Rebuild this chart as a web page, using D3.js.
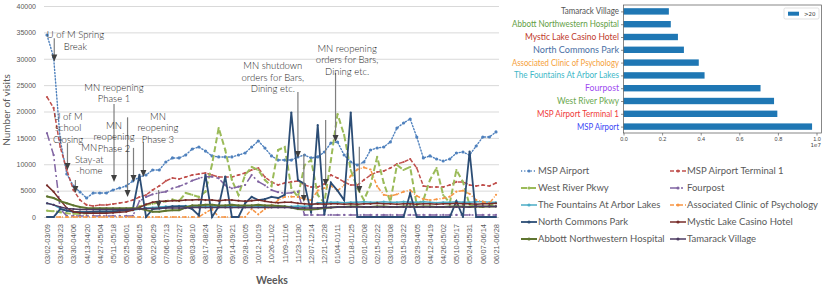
<!DOCTYPE html>
<html>
<head>
<meta charset="utf-8">
<script src="https://cdn.jsdelivr.net/npm/d3@7"></script>
<style>
  body { margin: 0; background: #fff; }
  svg { display: block; font-family: Lato, "Open Sans", sans-serif; }
</style>
</head>
<body>
<script>
// weekly categories (axis shows every other one)
const weeks = ["03/02-03/09","03/09-03/16","03/16-03/23","03/23-03/30","03/30-04/06","04/06-04/13","04/13-04/20","04/20-04/27",
  "04/27-05/04","05/04-05/11","05/11-05/18","05/18-05/25","05/25-06/01","06/01-06/08","06/08-06/15","06/15-06/22",
  "06/22-06/29","06/29-07/06","07/06-07/13","07/13-07/20","07/20-07/27","07/27-08/03","08/03-08/10","08/10-08/17",
  "08/17-08/24","08/24-08/31","08/31-09/07","09/07-09/14","09/14-09/21","09/21-09/28","09/28-10/05","10/05-10/12",
  "10/12-10/19","10/19-10/26","10/26-11/02","11/02-11/09","11/09-11/16","11/16-11/23","11/23-11/30","11/30-12/07",
  "12/07-12/14","12/14-12/21","12/21-12/28","12/28-01/04","01/04-01/11","01/11-01/18","01/18-01/25","01/25-02/01",
  "02/01-02/08","02/08-02/15","02/15-02/22","02/22-03/01","03/01-03/08","03/08-03/15","03/15-03/22","03/22-03/29",
  "03/29-04/05","04/05-04/12","04/12-04/19","04/19-04/26","04/26-05/02","05/03-05/10","05/10-05/17","05/17-05/24",
  "05/24-05/31","05/31-06/07","06/07-06/14","06/14-06/21","06/21-06/28"];

const yTicks = [0, 5000, 10000, 15000, 20000, 25000, 30000, 35000, 40000];

const mspAirport = [34500,30300,14600,8150,5880,4740,3600,4550,4550,4550,5120,5500,5880,6830,7580,7960,8910,8910,10430,11190,
  11190,11750,12890,13270,12500,11570,11380,11380,11380,11750,12130,13270,14410,13080,11570,10800,10800,10800,11380,11750,
  11190,11380,12320,14030,14220,11750,10430,9860,10430,12700,13080,13270,14220,16870,17820,18580,15170,11190,11570,11000,
  10620,11000,12130,12320,11750,13460,15170,15170,16120];
const mspTerminal1 = [22750,20670,13270,8910,5120,3220,2280,2090,2280,2280,2460,2650,2840,3220,3790,4170,5120,5880,6830,7390,
  7200,7580,7960,8150,8340,7960,7580,7580,7580,7960,8340,8910,9290,7580,6640,6070,6450,6640,6830,6070,
  5690,5690,6260,7960,7390,6640,6070,6070,7020,7960,8530,8720,9290,10050,10430,11000,9290,5880,5690,5690,
  5690,6070,6640,6640,6070,5880,6070,5880,6450];
const westRiver = [1200,1100,900,700,600,600,700,800,900,1000,1100,1300,1500,1700,2000,2300,2500,2800,3000,3300,
  3000,4550,4200,3800,4800,10000,16870,12700,7020,4170,7960,9480,8910,7020,5880,12700,13270,5500,3790,9860,
  10800,4170,2650,10800,19530,15550,8910,5500,3220,6070,11380,6450,2840,9860,8910,9480,2280,3220,7020,9290,
  4170,2650,8910,6640,2280,1900,1900,2090,2650];
const fourpost = [15900,11750,1500,200,200,200,200,200,200,200,200,200,200,200,3000,3800,4300,4600,4800,5440,
  5800,6300,6900,7340,7650,7650,7340,6000,5440,5750,6070,7960,6700,6000,5120,4700,4500,4600,4800,400,
  400,400,400,400,400,400,400,400,400,400,400,400,400,400,400,400,400,400,400,400,
  400,400,400,400,400,400,400,400,400];
const fountains = [2600,2300,1600,1200,1000,1000,1000,1000,1100,1100,1100,1200,1200,1300,1500,1700,1800,1900,2000,2000,
  2100,2100,2000,2000,2100,2000,2000,2100,2000,2000,2100,2100,2000,2000,2000,2100,2000,2000,2100,2000,
  2200,2700,2700,2800,2800,2700,2800,2800,2900,2800,2800,2900,2800,2800,2900,2800,2800,2900,2800,2700,
  2800,2800,2900,2800,2800,2900,2900,2800,2800];
const associatedClinic = [0,0,0,0,0,0,0,0,0,0,0,0,0,0,0,0,0,0,0,0,
  0,0,0,0,800,1500,0,0,0,0,0,1500,500,1500,2000,3200,3800,3850,3800,3400,
  3200,5000,5500,5900,5000,6000,7800,9000,9400,9000,5800,4200,4000,4300,4800,5100,4000,3400,3200,3350,
  3550,3850,4800,5000,4400,3220,2900,2600,4200];
const northCommons = [0,0,1500,1200,1000,900,900,1000,1000,1000,1000,1200,1300,1500,8000,0,1500,1600,1800,2000,
  2000,2000,1500,300,8000,0,2000,7650,0,0,2600,3800,3200,3400,3800,3600,4200,19800,7000,6300,
  800,17400,500,6500,5000,3200,19800,0,0,0,0,0,0,0,0,4500,0,0,0,0,
  0,0,3000,0,12400,0,0,0,0];
const mysticLake = [6000,4800,3200,1700,1000,800,700,700,700,700,800,900,1000,1300,1800,2400,2800,3000,3000,3100,
  3100,3200,3200,3300,3200,3200,3100,3200,3200,3100,3000,3100,3200,3000,2800,2700,2800,2800,2600,2500,
  2400,2500,2400,2500,2500,2400,2500,2400,2500,2500,2600,2500,2500,2400,2500,2500,2400,2500,2500,2400,
  2500,2500,2600,2500,2500,2400,2500,2500,2600];
const abbott = [3900,3600,3000,2600,2200,1900,1700,1650,1650,1650,1650,1650,1650,1650,1600,1300,1000,1000,1200,1300,
  1300,1800,2200,2200,2300,2300,2200,2200,2300,2200,2200,2200,2300,2200,2200,2100,2000,1800,1500,1400,
  1400,1500,1700,1800,1900,1900,2000,2000,1900,1900,2000,2000,1900,1900,2000,2000,1900,2000,2000,1900,
  1900,2000,2000,2000,1900,2000,2000,2000,2000];
const tamarack = [2600,2300,1900,1600,1500,1400,1400,1400,1400,1400,1400,1400,1400,1500,1500,1600,1600,1700,1700,1700,
  1700,1700,1800,1800,1800,1800,1800,1800,1800,1800,1800,1800,1800,1800,1800,1800,1800,1800,1700,1700,
  1700,1700,1800,1800,1900,1900,1900,1900,1900,1900,1900,1900,1900,1900,1900,1900,1900,1900,1900,1900,
  1900,1900,1900,1900,1900,2000,2000,2000,2000];

const seriesNames = ["MSP Airport","MSP Airport Terminal 1","West River Pkwy","Fourpost","The Fountains At Arbor Lakes",
  "Associated Clinic of Psychology","North Commons Park","Mystic Lake Casino Hotel","Abbott Northwestern Hospital","Tamarack Village"];
const seriesValues = [mspAirport, mspTerminal1, westRiver, fourpost, fountains, associatedClinic, northCommons, mysticLake, abbott, tamarack];

// event notes: lines of text, centre week index, first baseline value, arrows [week index, from, to]
const annotations = [
  { lines: ["U of M Spring", "Break"], at: 4.3, top: 33900, arrows: [[1.1, 33900, 29500]] },
  { lines: ["U of M", "school", "Closing"], at: 3.2, top: 18400, arrows: [[3.1, 14000, 8900]] },
  { lines: ["MN", "Stay-at", "-home"], at: 6.4, top: 12500, arrows: [[4.3, 7000, 4550]] },
  { lines: ["MN reopening", "Phase 1"], at: 10.15, top: 23900, arrows: [[10.15, 21400, 6640]] },
  { lines: ["MN", "reopening", "Phase 2"], at: 10.15, top: 16700, arrows: [[12.2, 18900, 3800], [13.1, 13100, 6640]] },
  { lines: ["MN", "reopening", "Phase 3"], at: 16.8, top: 18400, arrows: [[14.6, 14200, 7580], [16.9, 5100, 1700]] },
  { lines: ["MN shutdown", "orders for Bars,", "Dining  etc."], at: 34.2, top: 28000, arrows: [[38, 23700, 11200], [38.9, 11900, 2840]] },
  { lines: ["MN reopening", "orders for Bars,", "Dining  etc."], at: 45.45, top: 31300, arrows: [[43.7, 27300, 14200], [42.2, 18400, 5880], [47.3, 13300, 4550]] }
];

// bar panel, bottom to top
const barNames = ["MSP Airport","MSP Airport Terminal 1","West River Pkwy","Fourpost","The Fountains At Arbor Lakes",
  "Associated Clinic of Psychology","North Commons Park","Mystic Lake Casino Hotel","Abbott Northwestern Hospital","Tamarack Village"];
const barValues = [9.77e6, 7.97e6, 7.8e6, 7.1e6, 4.2e6, 3.9e6, 3.13e6, 2.82e6, 2.45e6, 2.35e6];
const barTicks = [0, 2e6, 4e6, 6e6, 8e6, 1e7];

// styles
const colors = ["#4F81BD","#C0504D","#9BBB59","#8064A2","#4BACC6","#F79646","#2C4D75","#772C2A","#5F7530","#4D3B62"];
const dashes = ["1.2,2","4,2","6,3","8,3,2,3",null,"4,2,1,2",null,null,null,null];
const widths = [1.4,1.5,2,1.5,1.5,1.5,1.8,1.5,2,1.5];
const barLabelColors = ["#3b46f5","#f03a3a","#6aa84f","#a04cf0","#40b8c8","#f5a03a","#4a6fa5","#c0392b","#5f9e44","#555555"];
const barLabelWidths = [42, 82, 62, 34, 105, 107, 86, 94, 107, 58];

const svg = d3.select("body").append("svg")
  .attr("width", 831)
  .attr("height", 288);

const x = d3.scaleLinear().domain([0, weeks.length - 1]).range([47, 496]);
const y = d3.scaleLinear().domain([0, 40000]).range([217, 6]);

// gridlines + y labels
const yAxis = svg.append("g")
  .attr("transform", "translate(44,0)")
  .call(d3.axisLeft(y).tickValues(yTicks).tickFormat(d3.format("d")).tickSize(-455).tickPadding(8));
yAxis.select(".domain").remove();
yAxis.selectAll("line").attr("stroke", "#d9d9d9");
yAxis.selectAll("text").attr("fill", "#595959").style("font-size", "7px");

const xAxis = svg.append("g")
  .attr("transform", "translate(0,217)")
  .call(d3.axisBottom(x).tickValues(d3.range(0, weeks.length, 2)).tickFormat(i => weeks[i]).tickSize(0));
xAxis.select(".domain").remove();
xAxis.selectAll("text")
  .attr("transform", "rotate(-90)")
  .attr("text-anchor", "end")
  .attr("x", -7)
  .attr("y", 0)
  .attr("dy", "0.32em")
  .attr("fill", "#595959")
  .style("font-size", "7.5px");

svg.append("text")
  .attr("transform", "translate(10,110) rotate(-90)")
  .attr("text-anchor", "middle")
  .attr("fill", "#595959")
  .style("font-size", "10px")
  .text("Number of visits");

svg.append("text")
  .attr("x", 272)
  .attr("y", 284)
  .attr("text-anchor", "middle")
  .attr("fill", "#595959")
  .style("font-size", "10.5px")
  .style("font-weight", "bold")
  .text("Weeks");

const line = d3.line().x((d, i) => x(i)).y(d => y(d));

seriesValues.forEach((vals, s) => {
  const g = svg.append("g").attr("class", "series");
  g.append("path")
    .datum(vals)
    .attr("d", line)
    .attr("fill", "none")
    .attr("stroke", colors[s])
    .attr("stroke-width", widths[s])
    .attr("stroke-linecap", s === 0 ? "round" : "butt")
    .attr("stroke-dasharray", dashes[s]);
  g.selectAll("circle")
    .data(vals)
    .join("circle")
    .attr("cx", (d, i) => x(i))
    .attr("cy", d => y(d))
    .attr("r", s === 0 ? 1.6 : 1.1)
    .attr("fill", colors[s]);
});

// annotations
const notes = svg.append("g").attr("class", "notes");
annotations.forEach(a => {
  a.arrows.forEach(([at, from, to]) => {
    const ax = x(at), y1 = y(from), y2 = y(to);
    notes.append("line")
      .attr("x1", ax).attr("x2", ax)
      .attr("y1", y1).attr("y2", y2 - 5)
      .attr("stroke", "#7f7f7f")
      .attr("stroke-width", 1.2);
    notes.append("path")
      .attr("d", `M${ax - 3},${y2 - 7}L${ax + 3},${y2 - 7}L${ax},${y2}Z`)
      .attr("fill", "#404040");
  });
  const t = notes.append("text")
    .attr("text-anchor", "middle")
    .attr("fill", "#262626")
    .style("font-size", "9.5px")
    .style("font-weight", "300");
  a.lines.forEach((l, k) => {
    t.append("tspan")
      .attr("x", x(a.at))
      .attr("y", y(a.top) + k * 11.5)
      .text(l);
  });
});

// legend
const legend = svg.append("g").attr("class", "legend");
seriesNames.forEach((name, s) => {
  const col = s % 2, row = Math.floor(s / 2);
  const lx = col === 0 ? 521 : 670;
  const ly = 171 + row * 17;
  legend.append("line")
    .attr("x1", lx).attr("x2", lx + 16)
    .attr("y1", ly).attr("y2", ly)
    .attr("stroke", colors[s])
    .attr("stroke-width", widths[s])
    .attr("stroke-dasharray", dashes[s]);
  legend.append("circle")
    .attr("cx", lx + 8).attr("cy", ly).attr("r", 1.6)
    .attr("fill", colors[s]);
  legend.append("text")
    .attr("x", lx + 17)
    .attr("y", ly)
    .attr("dy", "0.35em")
    .attr("fill", "#595959")
    .style("font-size", "9.5px")
    .text(name);
});

// bar panel
const bx = d3.scaleLinear().domain([0, d3.max(barValues) * 1.05]).range([623.5, 821.5]);
const by = d3.scaleLinear().domain([-0.5, barNames.length - 0.5]).range([133, 5]);
const bar = svg.append("g").attr("class", "bars").style("font-family", "'DejaVu Sans', sans-serif");

bar.selectAll("rect.bar")
  .data(barValues)
  .join("rect")
  .attr("class", "bar")
  .attr("x", bx(0))
  .attr("y", (d, i) => by(i + 0.25))
  .attr("width", d => bx(d) - bx(0))
  .attr("height", (d, i) => by(i - 0.25) - by(i + 0.25))
  .attr("fill", "#1f77b4");

const bxAxis = bar.append("g")
  .attr("transform", "translate(0,133)")
  .call(d3.axisBottom(bx).tickValues(barTicks).tickFormat(d => (d / 1e7).toFixed(1)).tickSize(2.5).tickPadding(1.5));
bxAxis.select(".domain").remove();
bxAxis.selectAll("line").attr("stroke", "#444").attr("stroke-width", 0.6);
bxAxis.selectAll("text").attr("fill", "#444").style("font-size", "5.5px");

const byAxis = bar.append("g")
  .attr("transform", "translate(623.5,0)")
  .call(d3.axisLeft(by).tickValues(d3.range(barNames.length)).tickSize(2.5).tickFormat(""));
byAxis.select(".domain").remove();
byAxis.selectAll("line").attr("stroke", "#444").attr("stroke-width", 0.6);

bar.append("rect")
  .attr("x", 623.5).attr("y", 5)
  .attr("width", 198).attr("height", 128)
  .attr("fill", "none")
  .attr("stroke", "#555")
  .attr("stroke-width", 0.7);

bar.append("text")
  .attr("x", 821).attr("y", 147)
  .attr("text-anchor", "end")
  .attr("fill", "#444")
  .style("font-size", "5.5px")
  .text("1e7");

bar.selectAll("text.cat")
  .data(barNames)
  .join("text")
  .attr("class", "cat")
  .attr("x", 619)
  .attr("y", (d, i) => by(i))
  .attr("dy", "0.35em")
  .attr("text-anchor", "end")
  .attr("fill", (d, i) => barLabelColors[i])
  .attr("textLength", (d, i) => barLabelWidths[i])
  .attr("lengthAdjust", "spacingAndGlyphs")
  .style("font-family", "Lato, sans-serif")
  .style("font-size", "8.5px")
  .text(d => d);

const bl = bar.append("g").attr("class", "bar-legend");
bl.append("rect")
  .attr("x", 784).attr("y", 8).attr("width", 35).attr("height", 11).attr("rx", 1.5)
  .attr("fill", "#fff").attr("stroke", "#ccc").attr("stroke-width", 0.6);
bl.append("rect")
  .attr("x", 788).attr("y", 11.7).attr("width", 11).attr("height", 4)
  .attr("fill", "#1f77b4");
bl.append("text")
  .attr("x", 804).attr("y", 13.7).attr("dy", "0.35em")
  .attr("fill", "#333")
  .style("font-size", "5.5px")
  .text(">20");
</script>
</body>
</html>
